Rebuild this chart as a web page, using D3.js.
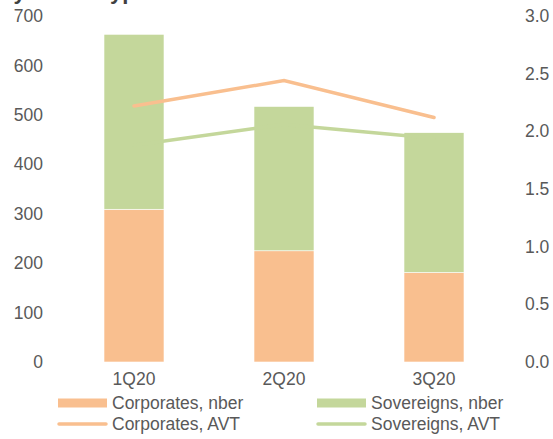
<!DOCTYPE html>
<html>
<head>
<meta charset="utf-8">
<script src="https://cdn.jsdelivr.net/npm/d3@7"></script>
<style>
  body { margin: 0; background: #fff; }
  svg { display: block; font-family: "Liberation Sans", Arial, sans-serif; }
</style>
</head>
<body>
<div id="chart"></div>
<script>
// data
const quarters = ["1Q20", "2Q20", "3Q20"];
const corporatesNber = [309, 225, 181];
const sovereignsNber = [354, 292, 283];
const corporatesAvt = [2.22, 2.44, 2.12];
const sovereignsAvt = [1.88, 2.06, 1.94];
const leftTicks = [0, 100, 200, 300, 400, 500, 600, 700];
const rightTicks = [0, 0.5, 1.0, 1.5, 2.0, 2.5, 3.0];

const width = 553, height = 439;
const orange = "#f9bf8f", green = "#c4d79b", textCol = "#595959";

const svg = d3.select("#chart").append("svg")
  .attr("width", width).attr("height", height);

// title is cut off at the top of the frame
svg.append("text")
  .attr("x", 0).attr("y", -1)
  .attr("font-size", 22).attr("font-weight", "bold")
  .attr("fill", "#404040")
  .text("by issuer type");

const x = d3.scaleBand().domain(quarters).range([59, 509])
  .paddingInner(0.6).paddingOuter(0.3);
const yL = d3.scaleLinear().domain([0, 700]).range([362, 16]);
const yR = d3.scaleLinear().domain([0, 3]).range([362, 16]);

// stacked bars
const rows = quarters.map((q, i) => ({ q: q, corp: corporatesNber[i], sov: sovereignsNber[i] }));
const stack = d3.stack().keys(["corp", "sov"])(rows);
const colors = { corp: orange, sov: green };

svg.append("g").selectAll("g").data(stack).join("g")
  .attr("fill", d => colors[d.key])
  .selectAll("rect").data(d => d).join("rect")
  .attr("x", d => x(d.data.q))
  .attr("y", d => yL(d[1]))
  .attr("width", x.bandwidth())
  .attr("height", d => yL(d[0]) - yL(d[1]))
  .attr("stroke", "#fff").attr("stroke-width", 0.6);

// lines on the right axis
const line = d3.line()
  .x((d, i) => x(quarters[i]) + x.bandwidth() / 2)
  .y(d => yR(d));

svg.append("path").datum(sovereignsAvt)
  .attr("fill", "none").attr("stroke", green)
  .attr("stroke-width", 3.5).attr("stroke-linecap", "round")
  .attr("d", line);
svg.append("path").datum(corporatesAvt)
  .attr("fill", "none").attr("stroke", orange)
  .attr("stroke-width", 3.5).attr("stroke-linecap", "round")
  .attr("d", line);

// axes (labels only)
const leftAxis = svg.append("g")
  .attr("transform", "translate(43,0)")
  .call(d3.axisLeft(yL).tickValues(leftTicks).tickSize(0).tickPadding(0));
const rightAxis = svg.append("g")
  .attr("transform", "translate(525,0)")
  .call(d3.axisRight(yR).tickValues(rightTicks).tickFormat(d3.format(".1f")).tickSize(0).tickPadding(0));
const bottomAxis = svg.append("g")
  .attr("transform", "translate(0,366)")
  .call(d3.axisBottom(x).tickSize(0).tickPadding(7));

[leftAxis, rightAxis, bottomAxis].forEach(g => {
  g.select(".domain").remove();
  g.selectAll("text")
    .attr("font-size", 17.5)
    .attr("font-family", "Liberation Sans, Arial, sans-serif")
    .attr("fill", textCol);
});

// legend
const legend = [
  { label: "Corporates, nber", color: orange, type: "rect", x: 58, y: 403 },
  { label: "Sovereigns, nber", color: green, type: "rect", x: 317, y: 403 },
  { label: "Corporates, AVT", color: orange, type: "line", x: 58, y: 424 },
  { label: "Sovereigns, AVT", color: green, type: "line", x: 317, y: 424 }
];
const lg = svg.append("g").selectAll("g").data(legend).join("g")
  .attr("transform", d => `translate(${d.x},${d.y})`);
lg.filter(d => d.type === "rect").append("rect")
  .attr("x", 0).attr("y", -4.5).attr("width", 49).attr("height", 9)
  .attr("fill", d => d.color);
lg.filter(d => d.type === "line").append("line")
  .attr("x1", 1).attr("x2", 48).attr("y1", 0).attr("y2", 0)
  .attr("stroke", d => d.color).attr("stroke-width", 3.5)
  .attr("stroke-linecap", "round");
lg.append("text")
  .attr("x", 54).attr("y", 0).attr("dy", "0.35em")
  .attr("font-size", 17.5).attr("fill", textCol)
  .text(d => d.label);
</script>
</body>
</html>
